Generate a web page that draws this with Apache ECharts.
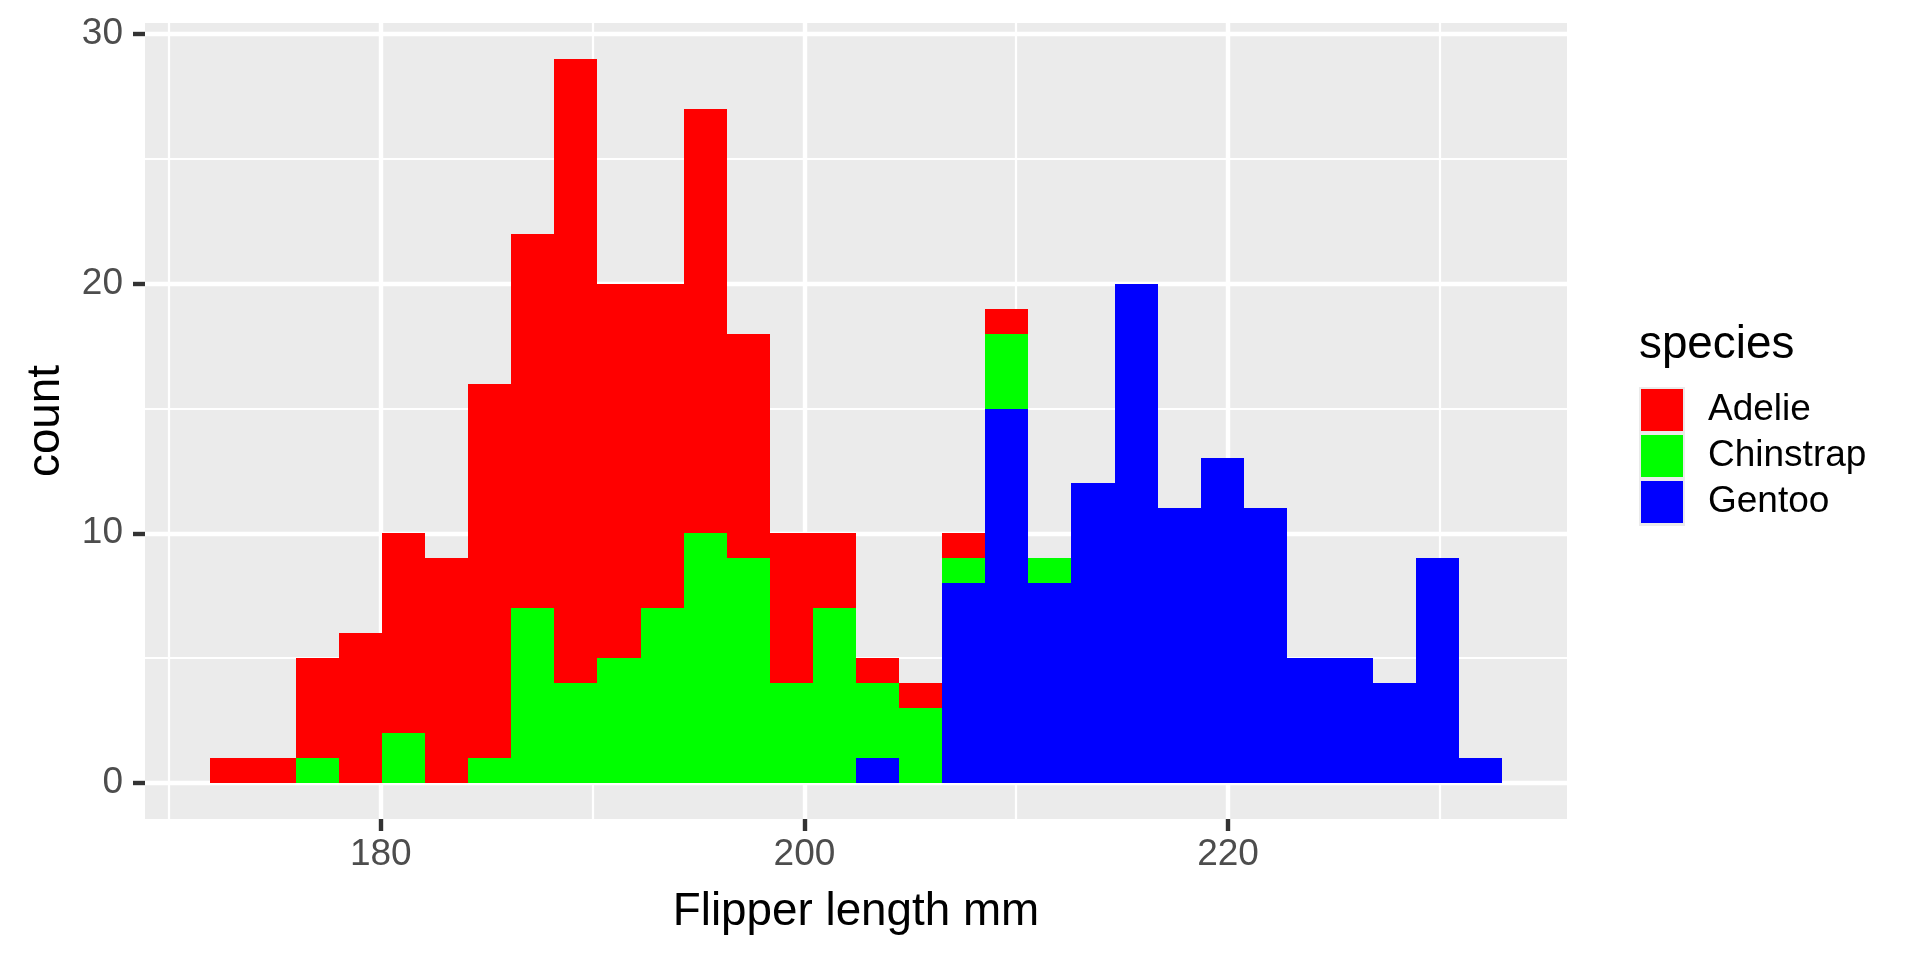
<!DOCTYPE html>
<html>
<head>
<meta charset="utf-8">
<script src="https://cdn.jsdelivr.net/npm/echarts@6/dist/echarts.min.js"></script>
<style>
  html, body { margin: 0; padding: 0; background: #fff; }
  #chart { width: 1920px; height: 960px; }
</style>
</head>
<body>
<div id="chart"></div>
<script>
// histogram bins (30 bins, ggplot default)
const binStart = 171.9172
const binWidth = 2.03448

// counts per bin
const adelie    = [1, 1, 4, 6, 8, 9, 15, 15, 25, 15, 13, 17, 9, 6, 3, 1, 1, 1, 1, 0, 0, 0, 0, 0, 0, 0, 0, 0, 0, 0]
const chinstrap = [0, 0, 1, 0, 2, 0, 1, 7, 4, 5, 7, 10, 9, 4, 7, 3, 3, 1, 3, 1, 0, 0, 0, 0, 0, 0, 0, 0, 0, 0]
const gentoo    = [0, 0, 0, 0, 0, 0, 0, 0, 0, 0, 0, 0, 0, 0, 0, 1, 0, 8, 15, 8, 12, 20, 11, 13, 11, 5, 5, 4, 9, 1]

const xMajor = [180, 200, 220]
const xMinor = [170, 190, 210, 230]
const yMajor = [0, 10, 20, 30]
const yMinor = [5, 15, 25]

const speciesNames = ['Adelie', 'Chinstrap', 'Gentoo']
const speciesColors = ['#FF0000', '#00FF00', '#0000FF']

// ggplot stacks the last level at the bottom
const stackOrder = [gentoo, chinstrap, adelie]

function buildRects(counts) {
  const out = []
  const idx = stackOrder.indexOf(counts)
  counts.forEach((c, i) => {
    if (!c) return
    let base = 0
    for (let k = 0; k < idx; k++) base += stackOrder[k][i]
    const x0 = binStart + i * binWidth
    out.push([x0, x0 + binWidth, base, base + c])
  })
  return out
}

function renderBar(params, api) {
  const p0 = api.coord([api.value(0), api.value(3)])
  const p1 = api.coord([api.value(1), api.value(2)])
  const x = Math.round(p0[0])
  const y = Math.round(p0[1])
  return {
    type: 'rect',
    shape: { x: x, y: y, width: Math.round(p1[0]) - x, height: Math.round(p1[1]) - y },
    style: { fill: api.visual('color') }
  }
}

const font = 'Liberation Sans'
const seriesData = [adelie, chinstrap, gentoo]

const chart = echarts.init(document.getElementById('chart'))

chart.setOption({
  animation: false,
  textStyle: { fontFamily: font },
  title: {
    text: 'species',
    left: 1639,
    top: 322,
    padding: 0,
    textStyle: { fontFamily: font, fontSize: 45.8, fontWeight: 'normal', color: '#000' }
  },
  legend: {
    orient: 'vertical',
    left: 1641,
    top: 389,
    padding: 0,
    itemWidth: 42,
    itemHeight: 42,
    itemGap: 4,
    icon: 'rect',
    data: speciesNames,
    textStyle: { fontFamily: font, fontSize: 37, color: '#000', padding: [0, 0, 0, 20] }
  },
  graphic: [{
    type: 'rect',
    left: 1639,
    top: 387,
    z: -1,
    shape: { width: 46, height: 139 },
    style: { fill: '#EBEBEB' }
  }],
  grid: {
    left: 145,
    right: 353,
    top: 23,
    bottom: 141,
    show: true,
    backgroundColor: '#EBEBEB',
    borderWidth: 0
  },
  xAxis: [{
    type: 'value',
    position: 'bottom',
    min: 168.87,
    max: 236.0,
    name: 'Flipper length mm',
    nameLocation: 'middle',
    nameGap: 70,
    nameTextStyle: { fontFamily: font, fontSize: 45.8, color: '#000' },
    axisLine: { show: false, onZero: false },
    axisTick: { show: true, length: 12, customValues: xMajor, lineStyle: { color: '#333333', width: 4.4 } },
    axisLabel: { customValues: xMajor, fontSize: 37, color: '#4D4D4D', margin: 17 },
    splitLine: { show: true, lineStyle: { color: '#FFFFFF', width: 4.4 } }
  }, {
    type: 'value',
    position: 'top',
    min: 168.87,
    max: 236.0,
    axisLine: { show: false, onZero: false },
    axisTick: { show: false, customValues: xMinor },
    axisLabel: { show: false },
    splitLine: { show: true, lineStyle: { color: '#FFFFFF', width: 2.2 } }
  }],
  yAxis: [{
    type: 'value',
    position: 'left',
    min: -1.45,
    max: 30.45,
    name: 'count',
    nameLocation: 'middle',
    nameGap: 76,
    nameTextStyle: { fontFamily: font, fontSize: 45.8, color: '#000' },
    axisLine: { show: false, onZero: false },
    axisTick: { show: true, length: 12, customValues: yMajor, lineStyle: { color: '#333333', width: 4.4 } },
    axisLabel: { customValues: yMajor, fontSize: 37, color: '#4D4D4D', margin: 22 },
    splitLine: { show: true, lineStyle: { color: '#FFFFFF', width: 4.4 } }
  }, {
    type: 'value',
    position: 'right',
    min: -1.45,
    max: 30.45,
    axisLine: { show: false, onZero: false },
    axisTick: { show: false, customValues: yMinor },
    axisLabel: { show: false },
    splitLine: { show: true, lineStyle: { color: '#FFFFFF', width: 2.2 } }
  }],
  series: speciesNames.map((name, i) => ({
    name: name,
    type: 'custom',
    xAxisIndex: 0,
    yAxisIndex: 0,
    itemStyle: { color: speciesColors[i] },
    renderItem: renderBar,
    encode: { x: [0, 1], y: [2, 3] },
    data: buildRects(seriesData[i])
  }))
})
</script>
</body>
</html>
